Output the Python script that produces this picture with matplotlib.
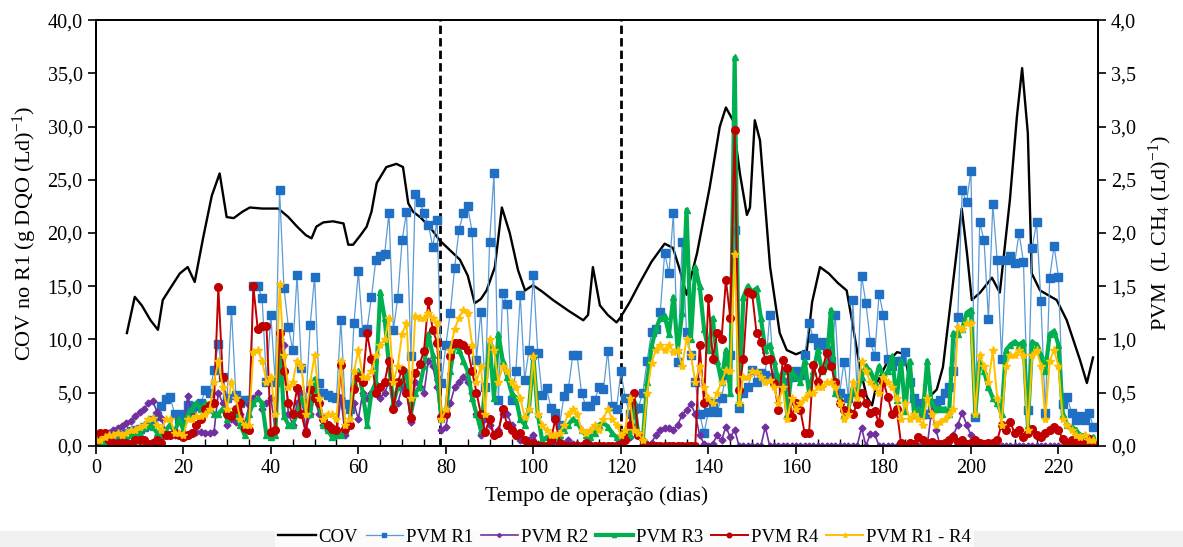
import numpy as np
import matplotlib
matplotlib.use("Agg")
import matplotlib.pyplot as plt
from matplotlib.ticker import FuncFormatter, MultipleLocator
from matplotlib.patches import Rectangle

plt.rcParams['font.family'] = ['Liberation Serif', 'DejaVu Serif']
plt.rcParams['mathtext.default'] = 'regular'

# COV (left axis), smoothed curve read at (day, value)
cov_points = [
    (7.1, 10.6), (8.9, 14.0), (10.5, 13.2), (12.5, 11.8), (14.2, 10.9), (15.3, 13.7),
    (17, 14.8), (19.2, 16.2), (21, 16.8), (22.6, 15.4), (24.5, 19.5), (26.5, 23.5),
    (28.3, 25.6), (29.9, 21.5), (31.5, 21.4), (33.5, 22.0), (35.2, 22.4), (38, 22.3),
    (41.7, 22.3), (44, 21.5), (46, 20.6), (48, 19.8), (49.3, 19.5), (50.4, 20.6),
    (52, 21.0), (54.2, 21.1), (56.6, 20.9), (57.7, 18.9), (58.8, 18.9), (60.5, 19.8),
    (61.9, 20.6), (63, 22.0), (64.2, 24.7), (66.4, 26.2), (68.7, 26.5), (70.2, 26.2),
    (71.4, 22.8), (72.5, 22.0), (74.1, 21.5), (76.3, 20.6), (78.6, 19.3), (80.9, 18.4),
    (83.2, 17.5), (85, 16.0), (86.6, 13.4), (88, 13.8), (89.3, 14.6), (91.2, 16.8),
    (92.8, 22.4), (94.6, 20.0), (96.5, 16.5), (98.1, 14.6), (99.9, 15.1), (102, 14.5),
    (104.5, 13.7), (108, 12.7), (111.4, 11.8), (112.5, 12.3), (113.6, 16.8), (115.2, 13.2),
    (117, 12.3), (119, 11.6), (119.8, 12.0), (122, 13.5), (124.3, 15.3), (127, 17.3),
    (130, 19.0), (131.9, 18.6), (133.5, 16.5), (135, 14.2), (137.4, 18.1), (140.3, 24.3),
    (142.6, 30.0), (144, 31.8), (145.6, 30.6), (147.2, 25.6), (148.8, 21.7), (149.5, 22.4),
    (150.6, 30.6), (151.8, 28.7), (154.1, 16.8), (156.3, 10.6), (157.9, 9.0), (160, 8.6),
    (162.5, 9.0), (163.7, 13.5), (165.5, 16.8), (167.5, 16.2), (169.6, 15.3), (171.6, 14.6),
    (172.8, 11.8), (174.6, 7.4), (176.2, 4.6), (177.4, 3.8), (178.5, 5.9), (180.8, 7.8),
    (183.1, 8.8), (184.2, 8.7), (185.4, 7.4), (186.8, 4.3), (189.1, 4.0), (192.2, 5.3),
    (193.6, 7.4), (195.9, 15.3), (197.9, 22.3), (199.1, 18.1), (200.2, 13.7), (202.1, 14.4),
    (204.8, 15.8), (206.6, 14.4), (208.9, 23.1), (210.5, 30.9), (211.7, 35.5), (213.0, 29.4),
    (213.9, 16.2), (215.8, 14.6), (219.6, 13.7), (221.9, 11.8), (224.9, 8.1), (226.5, 5.9),
    (227.9, 8.3),
]

# PVM daily values (right axis), day 0 .. 228
pvm_r1 = [
    .10, .08, .06, .05, .06, .08, .10, .12, .14, .15,
    .16, .18, .20, .24, .28, .37, .44, .46, .30, .25,
    .30, .38, .36, .37, .40, .52, .50, .71, .96, .65,
    .45, 1.28, .48, .40, .43, .43, 1.50, 1.50, 1.39, .60,
    1.23, .60, 2.40, 1.48, 1.12, .90, 1.61, .73, .40, 1.14,
    1.59, .59, .50, .48, .46, .45, 1.18, .39, .35, 1.15,
    1.64, 1.07, 1.10, 1.40, 1.75, 1.78, 1.80, 2.19, 1.09, 1.39,
    1.93, 2.20, .84, 2.37, 2.29, 2.19, 2.08, 1.87, 2.12, .59,
    .95, 1.25, 1.67, 2.03, 2.19, 2.25, 2.01, .81, 1.26, .55,
    1.92, 2.56, .43, 1.44, 1.33, .43, .70, 1.42, .62, .90,
    1.61, .87, .48, .54, .36, .31, .20, .47, .54, .85,
    .85, .50, .37, .37, .43, .55, .53, .89, .37, .35,
    .70, .45, .30, .35, .36, .50, .80, 1.07, 1.10, 1.26,
    1.81, 1.62, 2.19, .79, 1.92, 1.07, .85, .60, .30, .12,
    .32, .40, .32, .45, .67, .85, 2.03, .36, .50, .55,
    .71, .60, .68, .67, 1.23, .65, .60, .55, .60, .65,
    .70, .67, .85, 1.15, 1.01, .95, .98, .90, .80, 1.23,
    .50, .79, .45, 1.37, .50, 1.60, 1.34, .98, .84, 1.43,
    1.23, .82, .75, .80, .80, .88, .60, .45, .40, .30,
    .30, .35, .40, .43, .50, .55, .70, 1.21, 2.40, 2.29,
    2.58, .27, 2.10, 1.93, 1.19, 2.27, 1.75, .82, 1.75, 1.78,
    1.72, 2.00, 1.73, .34, 1.86, 2.10, 1.36, .31, 1.58, 1.88,
    1.59, .39, .46, .31, .24, .28, .24, .31, .18,
]
pvm_r2 = [
    .05, .08, .10, .12, .15, .17, .19, .21, .23, .28,
    .32, .35, .40, .42, .32, .26, .12, .10, .10, .10,
    .12, .47, .30, .13, .13, .12, .12, .13, .50, .40,
    .20, .25, .22, .30, .20, .38, .45, .50, .35, .40,
    .45, .15, 1.00, .95, .30, .20, .40, .50, .15, .30,
    .45, .30, .20, .15, .18, .10, .45, .10, .20, .40,
    .25, .50, .45, .50, .50, .45, .50, .60, .35, .40,
    .55, .55, .22, .60, .55, .50, .80, .75, .55, .15,
    .18, .40, .55, .60, .65, .60, .50, .30, .10, .25,
    .20, .10, .15, .30, .30, .20, .10, .05, .05, .05,
    .10, .02, 0, 0, .02, 0, 0, .02, .05, .02,
    .02, 0, .02, .02, 0, 0, 0, 0, 0, .02,
    .05, .10, .08, .15, .10, .05, .02, .03, .10, .15,
    .17, .17, .15, .20, .29, .34, .39, .30, .10, .02,
    0, .02, .10, .05, .18, .08, .15, 0, 0, 0,
    0, 0, 0, .18, 0, 0, 0, 0, 0, 0,
    0, 0, 0, 0, 0, 0, 0, 0, 0, 0,
    0, 0, 0, 0, 0, .17, 0, .11, .11, 0,
    0, 0, 0, 0, 0, 0, 0, 0, 0, 0,
    0, .33, .15, 0, 0, 0, .10, .20, .31, .20,
    .10, 0, 0, 0, 0, 0, 0, 0, 0, 0,
    0, 0, 0, 0, 0, 0, 0, 0, 0, 0,
    0, 0, 0, 0, 0, 0, 0, 0, 0,
]
pvm_r3 = [
    .03, .02, .02, .03, .03, .05, .05, .08, .10, .10,
    .12, .18, .20, .18, .12, .10, .15, .20, .12, .25,
    .15, .30, .35, .40, .35, .40, .35, .30, .30, .35,
    .25, .30, .30, .20, .10, .30, .40, .45, .40, .10,
    .08, .10, 1.00, .28, .20, .20, .30, .45, .35, .30,
    .63, .40, .20, .15, .08, .10, .10, .15, .20, .60,
    .70, .50, .20, .50, .60, 1.45, 1.20, .75, .40, .55,
    .60, .70, .30, .50, .55, .75, 1.05, .85, .65, .25,
    .30, .70, .95, .90, .80, .70, .45, .30, .15, .55,
    .97, .45, 1.05, .80, .65, .50, .45, .25, .20, .35,
    .84, .30, .05, .08, .10, .08, .10, .15, .20, .25,
    .22, .15, .10, .08, .12, .20, .22, .18, .12, .08,
    .05, .08, .10, .42, .10, .05, .60, .93, 1.10, 1.20,
    1.22, 1.05, 1.40, .90, 1.25, 2.22, 1.00, 1.68, 1.50, 1.10,
    .90, 1.20, .80, .60, .90, .50, 3.65, .40, 1.40, 1.50,
    1.45, 1.48, 1.20, .90, .95, .80, .60, .70, .30, .70,
    .65, .60, .80, .50, .70, .90, .70, .75, 1.28, .50,
    .45, .30, .35, .55, .50, .65, .75, .70, .60, .75,
    .65, .70, .84, .43, .80, .33, .80, .30, .35, .30,
    .80, .40, .35, .35, .35, .30, 1.06, 1.05, 1.10, 1.25,
    1.28, .30, .80, .70, .55, .45, .40, .30, .90, .95,
    .98, .95, .98, .20, .98, .95, .85, .70, 1.05, 1.08,
    .95, .30, .20, .18, .15, .10, .10, .08, .08,
]
pvm_r4 = [
    .05, .12, .12, .05, .03, .03, .03, .03, .02, .05,
    .05, .05, .02, .03, .05, .03, .10, .10, .12, .10,
    .08, .10, .12, .20, .25, .35, .38, .40, 1.49, .65,
    .30, .28, .35, .40, .17, .15, 1.50, 1.10, 1.13, 1.13,
    .13, .15, 1.06, .70, .40, .30, .54, .30, .12, .53,
    .45, .40, .25, .20, .16, .15, .76, .16, .20, .53,
    .65, .60, 1.06, .82, .50, .55, .60, .80, .35, .60,
    .71, .50, .26, .68, .77, .89, 1.36, 1.09, .97, .27,
    .30, .84, .97, .97, .95, .90, .70, .50, .30, .13,
    .25, .10, .12, .35, .20, .15, .10, .12, .05, 0,
    .03, 0, 0, 0, .05, .25, .03, 0, 0, 0,
    0, 0, .03, 0, 0, 0, 0, 0, 0, 0,
    .02, .05, .20, .50, .10, 0, 0, 0, 0, 0,
    0, 0, 0, 0, 0, 0, 0, 0, .95, .40,
    1.39, .82, 1.06, 1.00, 1.56, 1.20, 2.97, .52, .82, 1.45,
    1.43, 1.06, .98, .81, .82, .59, .34, .81, .73, .27,
    .40, .34, .12, .12, .76, .60, .71, .87, .75, .60,
    .40, .34, .32, .30, .39, .50, .40, .31, .33, .21,
    .60, .46, .30, .35, .03, 0, .03, .02, .08, .05,
    .03, .04, .02, .02, .03, .05, .08, .04, .05, .02,
    .03, .05, .03, .02, .03, .03, .05, .20, .15, .22,
    .12, .15, .08, .12, .16, .10, .08, .12, .15, .18,
    .15, .06, .03, .05, .03, .04, .02, .06, .02,
]
pvm_r1_r4 = [
    .05, .05, .08, .10, .10, .12, .10, .12, .15, .15,
    .18, .20, .25, .26, .20, .15, .25, .25, .12, .12,
    .10, .25, .25, .28, .28, .30, .35, .60, .80, .55,
    .35, .60, .45, .25, .20, .20, .88, .90, .80, .60,
    .65, .30, 1.52, .85, .55, .60, .80, .75, .30, .60,
    .85, .45, .25, .30, .30, .25, .80, .20, .25, .70,
    .90, .65, .65, .70, .85, .95, 1.00, 1.20, .60, .75,
    1.05, 1.15, .45, 1.22, 1.20, 1.20, 1.25, 1.20, 1.15, .25,
    .35, .90, 1.10, 1.20, 1.28, 1.25, .95, .60, .75, .30,
    1.00, .90, .60, .75, .70, .60, .55, .45, .27, .35,
    .84, .30, .20, .15, .10, .10, .12, .20, .30, .35,
    .30, .15, .12, .15, .20, .15, .25, .35, .25, .20,
    .10, .15, .45, .15, .12, .05, .50, .78, .90, .95,
    .90, .95, .88, .90, .75, 1.00, .85, .60, .75, .55,
    .45, .40, .50, .60, .71, .70, 1.80, .40, .65, .65,
    .70, .69, .65, .60, .62, .55, .40, .55, .25, .45,
    .35, .40, .45, .50, .50, .55, .55, .60, .60, .55,
    .40, .25, .30, .60, .45, .80, .70, .60, .55, .50,
    .65, .60, .55, .45, .25, .40, .25, .30, .25, .20,
    .45, .30, .20, .22, .25, .30, .35, 1.12, 1.10, 1.15,
    1.15, .30, .85, .75, .60, .90, .45, .20, .75, .85,
    .85, .90, .85, .15, .85, .90, .75, .25, .80, .90,
    .75, .25, .20, .15, .10, .08, .10, .05, .05,
]

phase_limits = [78.6, 120]
labels = ["COV", "PVM R1", "PVM R2", "PVM R3", "PVM R4", "PVM R1 - R4"]

fig = plt.figure(figsize=(11.83, 5.47), dpi=100)
fig.patches.append(Rectangle((0, 0), 1, 0.03, transform=fig.transFigure,
                             color='#f0f0f0', zorder=0))
ax = fig.add_axes([0.081, 0.185, 0.847, 0.778])
ax2 = ax.twinx()

cx = [p[0] for p in cov_points]
cy = [p[1] for p in cov_points]
h_cov, = ax.plot(cx, cy, color='black', lw=1.7, label=labels[0])

for xv in phase_limits:
    ax.axvline(xv, color='black', ls=(0, (3, 1.5)), lw=2)

def days(s):
    return np.arange(len(s))

h1, = ax2.plot(days(pvm_r1), pvm_r1, color='#5b9bd5', lw=0.9, marker='s', ms=6,
               mfc='#1f6fc4', mec='#1f6fc4')
h2, = ax2.plot(days(pvm_r2), pvm_r2, color='#7030a0', lw=1.2, marker='D', ms=3.5)
h3, = ax2.plot(days(pvm_r3), pvm_r3, color='#00b050', lw=3, marker='^', ms=5)
h4, = ax2.plot(days(pvm_r4), pvm_r4, color='#c00000', lw=1.4, marker='o', ms=5.5)
h5, = ax2.plot(days(pvm_r1_r4), pvm_r1_r4, color='#ffc000', lw=1.4, marker='*', ms=6)

ax.set_xlim(0, 229)
ax.set_ylim(0, 40)
ax2.set_ylim(0, 4)

comma = lambda v, p: f"{v:.1f}".replace('.', ',')
ax.yaxis.set_major_locator(MultipleLocator(5))
ax.yaxis.set_major_formatter(FuncFormatter(comma))
ax2.yaxis.set_major_locator(MultipleLocator(0.5))
ax2.yaxis.set_major_formatter(FuncFormatter(comma))
ax.xaxis.set_major_locator(MultipleLocator(20))
ax.xaxis.set_minor_locator(MultipleLocator(5))

ax.tick_params(axis='x', which='major', direction='out', length=6, width=1.2, labelsize=14.5)
ax.tick_params(axis='x', which='minor', direction='in', length=5, width=1)
ax.tick_params(axis='y', direction='out', length=6, width=1.2, labelsize=14.5)
ax2.tick_params(axis='y', direction='out', length=6, width=1.2, labelsize=14.5)
for a in (ax, ax2):
    for s in a.spines.values():
        s.set_linewidth(1.3)

ax.set_xlabel("Tempo de operação (dias)", fontsize=15.5, labelpad=6)
ax.set_ylabel("COV no R1 (g DQO (Ld)$^{-1}$)", fontsize=16, labelpad=6)
ax2.set_ylabel("PVM  (L CH$_4$ (Ld)$^{-1}$)", fontsize=16, labelpad=8)

fig.legend([h_cov, h1, h2, h3, h4, h5], labels, loc='center',
           bbox_to_anchor=(0.528, 0.018), ncol=6, frameon=True, facecolor='white',
           edgecolor='none', fancybox=False, fontsize=13.5, markerscale=0.6,
           handlelength=2.0, handletextpad=0.15, columnspacing=0.4, borderpad=0.15)

fig.savefig("out.png", dpi=100)
